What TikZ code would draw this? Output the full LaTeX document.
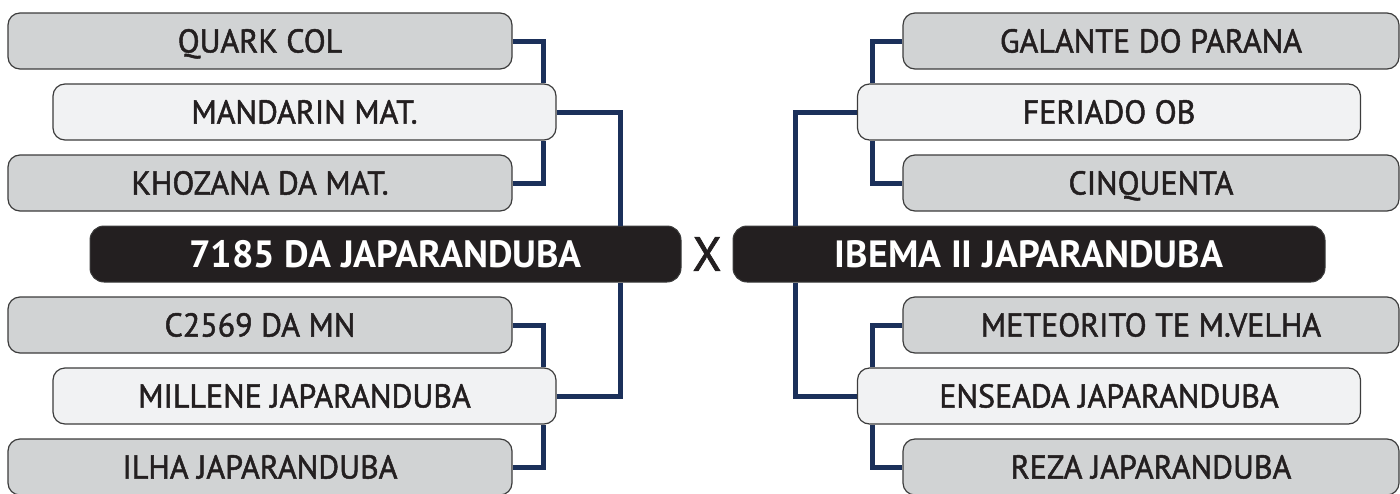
\documentclass[tikz,border=0pt]{standalone}
\usepackage{fontspec}
\setmainfont{PT Sans}
\newfontfamily\medfont[FakeBold=1.5, FakeStretch=0.97]{PT Sans}
\usepackage{xcolor}
\usepackage{tikz}
\definecolor{boxgray}{HTML}{D1D3D4}
\definecolor{boxlight}{HTML}{F1F2F3}
\definecolor{boxblack}{HTML}{231F20}
\definecolor{edgegray}{HTML}{3C3C3C}
\definecolor{navy}{HTML}{1B305A}
\tikzstyle{gbox} = [rectangle, rounded corners=12pt, minimum width=504pt, minimum height=56pt, text centered, text height=23pt, text depth=0pt, draw=edgegray, line width=1.2pt, fill=boxgray, text=boxblack, font=\medfont\fontsize{33}{33}\selectfont]
\tikzstyle{rgbox} = [gbox, minimum width=496pt]
\tikzstyle{lbox} = [gbox, minimum width=503pt, fill=boxlight]
\tikzstyle{bbox} = [rectangle, rounded corners=14pt, minimum width=591pt, minimum height=56pt, text centered, text height=26.6pt, text depth=0pt, draw=edgegray, line width=1pt, fill=boxblack, text=white, font=\fontsize{38}{38}\selectfont\bfseries]
\tikzstyle{vs} = [text=boxblack, text height=33.6pt, text depth=0pt, font=\medfont\fontsize{48}{48}\selectfont]
\tikzstyle{link} = [line width=5pt, draw=navy]

\begin{document}
\begin{tikzpicture}[x=1pt, y=-1pt, node distance=71pt]
\useasboundingbox (0,0) rectangle (1400,493);

\node (q) [gbox] at (260,41) {QUARK COL};
\node (m) [lbox, below of=q, xshift=44.5pt] {MANDARIN MAT.};
\node (k) [gbox, below of=m, xshift=-44.5pt] {KHOZANA DA MAT.};
\node (a) [bbox, below of=k, xshift=125.5pt] {7185 DA JAPARANDUBA};
\node (c) [gbox, below of=a, xshift=-125.5pt] {C2569 DA MN};
\node (mi) [lbox, below of=c, xshift=44.5pt] {MILLENE JAPARANDUBA};
\node (i) [gbox, below of=mi, xshift=-44.5pt] {ILHA JAPARANDUBA};

\node (x) [vs] at (707,254) {X};

\node (g) [rgbox] at (1151,41) {GALANTE DO PARANA};
\node (f) [lbox, below of=g, xshift=-42pt] {FERIADO OB};
\node (ci) [rgbox, below of=f, xshift=42pt] {CINQUENTA};
\node (b) [bbox, below of=ci, xshift=-122pt, minimum width=592pt] {IBEMA II JAPARANDUBA};
\node (me) [rgbox, below of=b, xshift=122pt] {METEORITO TE M.VELHA};
\node (e) [lbox, below of=me, xshift=-42pt] {ENSEADA JAPARANDUBA};
\node (r) [rgbox, below of=e, xshift=42pt] {REZA JAPARANDUBA};

\coordinate (li) at (543,0);
\coordinate (lo) at (620,0);
\coordinate (ri) at (872,0);
\coordinate (ro) at (795,0);

\draw [link] (q.east) -| (li |- m.north);
\draw [link] (k.east) -| (li |- m.south);
\draw [link] (m.east) -| (lo |- a.north);
\draw [link] (c.east) -| (li |- mi.north);
\draw [link] (i.east) -| (li |- mi.south);
\draw [link] (mi.east) -| (lo |- a.south);

\draw [link] (g.west) -| (ri |- f.north);
\draw [link] (ci.west) -| (ri |- f.south);
\draw [link] (f.west) -| (ro |- b.north);
\draw [link] (me.west) -| (ri |- e.north);
\draw [link] (r.west) -| (ri |- e.south);
\draw [link] (e.west) -| (ro |- b.south);

\end{tikzpicture}
\end{document}
